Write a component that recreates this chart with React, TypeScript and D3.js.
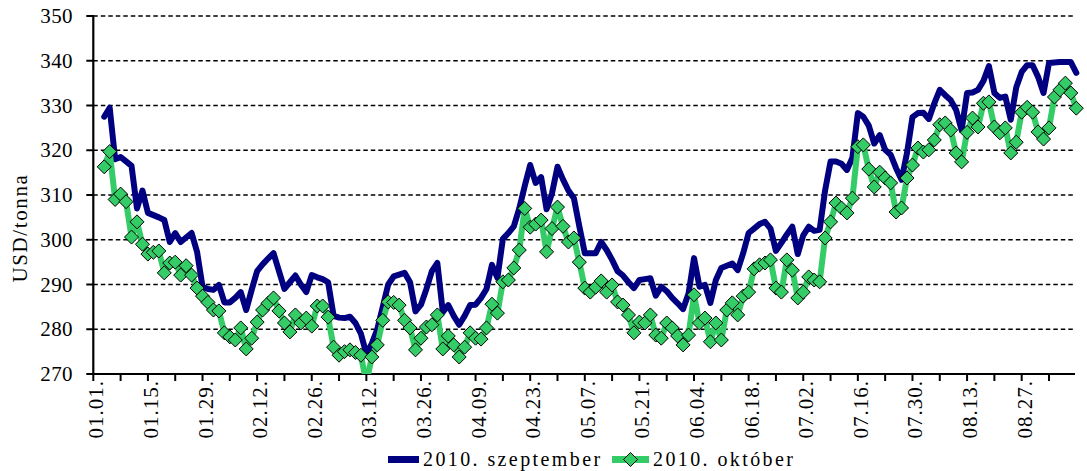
import React from "react";
import * as d3 from "d3";

// Category axis: business days counted from 2010.01.01 (index 0); data start at index 2
const FIRST_INDEX = 2;
const LAST_INDEX = 180;

const tickLabels = [
  "01.01.", "01.15.", "01.29.", "02.12.", "02.26.", "03.12.", "03.26.", "04.09.", "04.23.",
  "05.07.", "05.21.", "06.04.", "06.18.", "07.02.", "07.16.", "07.30.", "08.13.", "08.27.",
];

const yTicks = [270, 280, 290, 300, 310, 320, 330, 340, 350];

const seriesNames = ["2010. szeptember", "2010. október"];

// 2010. szeptember (USD/tonna)
const septValues = [
  327.5, 329.5, 318, 318.5, 317.5, 316.5, 307, 311, 306, 305.5,
  305, 304.4, 299.5, 301.5, 299.5, 300.5, 301.5, 297.3, 289.5, 289,
  288.8, 289.9, 286, 286, 287, 288.3, 284.3, 288.8, 293, 294.5,
  295.8, 297, 293, 289, 290.5, 292, 290, 288.3, 292.1, 291.6,
  291.2, 290.5, 283, 282.6, 282.5, 282.8, 281.4, 279, 274.5, 276.8,
  280, 285, 290, 291.8, 292.2, 292.6, 290.5, 284, 285.5, 289,
  293, 294.8, 283.8, 285.4, 283, 281, 283, 285.4, 285.5, 287,
  289, 294.4, 291.5, 300.2, 301.5, 303, 307, 312, 316.7, 312.7,
  314, 306.8, 310.4, 316.3, 313.5, 311, 309.3, 303, 297, 297,
  297, 299.5, 297.7, 295.5, 293, 292, 290.5, 289.2, 291, 291.2,
  291.4, 287.5, 289.5, 288.5, 287, 285.8, 284.5, 288, 295.9, 289.5,
  289.9, 285.9, 291, 293.7, 294.2, 294.7, 293.2, 297, 301.5, 302.5,
  303.5, 304, 302.5, 297.5, 299.3, 301.2, 302.9, 296.8, 301, 302.9,
  302, 302.2, 311, 317.5, 317.5, 317, 315.6, 318.3, 328.3, 327.5,
  325.5, 321.5, 323.4, 320.1, 319, 316, 313.4, 319.4, 327.4, 328.3,
  328.4, 327, 330.5, 333.5, 332.3, 331.2, 329, 324.5, 332.8, 332.9,
  333.5, 335.5, 338.8, 332.8, 331.7, 332, 326.8, 334, 337.5, 339,
  339, 336.4, 332.8, 339.5, 339.6, 339.7, 339.7, 339.7, 337.3,
];

// 2010. október (USD/tonna)
const octValues = [
  316.3, 319.7, 309, 310.2, 308.5, 300.6, 304, 299, 296.8, 297.2,
  297.5, 292.6, 294.8, 295, 292.1, 294.2, 292.1, 289.2, 287.4, 286,
  284.3, 284.1, 279.2, 278.3, 277.6, 280.3, 275.6, 278, 281.6, 284.3,
  285.8, 287, 284.1, 281.4, 279.4, 283.2, 281.4, 282.5, 280.7, 285.2,
  285.2, 282.7, 276, 274.2, 275, 275.4, 274.8, 274.2, 268, 273.8,
  276.5, 282, 286.1, 286, 285.4, 282, 280.3, 275.4, 278, 280.5,
  281, 283.2, 275.6, 278.5, 276.5, 273.8, 276, 279.2, 278, 277.8,
  280.3, 285.6, 283.6, 290.6, 291, 293.7, 297.7, 307, 302.8, 303.5,
  304.4, 297.3, 302.5, 307.3, 303, 299.5, 300.4, 295, 289.2, 288.3,
  289.4, 290.8, 288.3, 289.9, 286.1, 285.4, 283.2, 279.2, 281.6, 281.4,
  283.2, 278.7, 278, 281.4, 280.3, 278.5, 276.5, 278.7, 287.7, 281.4,
  282.5, 277.2, 281.4, 277.6, 284.3, 285.9, 283.2, 287.4, 288.3, 293.5,
  294.4, 294.8, 295.5, 289.2, 288.3, 295.5, 293.2, 287, 288.3, 291.7,
  291, 290.6, 300.4, 304, 308.2, 307.1, 306, 309.3, 320.8, 321.2,
  315.8, 311.8, 315.1, 313.8, 312.7, 306.2, 307.1, 313.8, 316.7, 320.5,
  319.6, 320.1, 322.3, 325.7, 326.1, 324.5, 319.4, 317.4, 324, 327.2,
  325.2, 330.5, 330.8, 325.2, 323.9, 325, 319.4, 321.8, 328.5, 329.6,
  328.5, 324.1, 322.5, 325, 331.9, 333.5, 335, 332.8, 329.4,
];

const W = 1087;
const H = 471;
const m = { left: 93.3, right: 1076.3, top: 16, bottom: 374 };
const FONT = "'Liberation Serif', 'DejaVu Serif', serif";
const NAVY = "#000080";
const GREEN = "#33CC66";

export default function App() {
  const x = d3.scaleLinear().domain([0, LAST_INDEX]).range([m.left, m.right]);
  const y = d3.scaleLinear().domain([270, 350]).range([m.bottom, m.top]);

  const septPts = septValues.map((v, k) => [FIRST_INDEX + k, v] as [number, number]);
  const octPts = octValues.map((v, k) => [FIRST_INDEX + k, v] as [number, number]);

  const line = d3
    .line<[number, number]>()
    .x((d) => x(d[0]))
    .y((d) => y(d[1]));

  const weekTicks = d3.range(0, 176, 5);
  const labelTicks = tickLabels.map((t, k) => ({ t, i: k * 10 }));
  const axisEnd = 1075;
  const diamond = (r: number) => `M0,${-r}L${r},0L0,${r}L${-r},0Z`;

  return (
    <svg
      width={W}
      height={H}
      style={{ position: "absolute", left: 0, top: 0, background: "#fff", display: "block" }}
      fontFamily={FONT}
    >
      <defs>
        <clipPath id="plotClip">
          <rect x={m.left} y={m.top - 10} width={W - m.left} height={m.bottom - m.top + 10} />
        </clipPath>
      </defs>

      {/* grid lines */}
      {yTicks.slice(1).map((t) => (
        <line
          key={"g" + t}
          x1={m.left}
          x2={axisEnd}
          y1={y(t)}
          y2={y(t)}
          stroke="#000"
          strokeWidth={1.4}
          strokeDasharray="4.5,3"
        />
      ))}

      {/* y axis */}
      <line x1={m.left} x2={m.left} y1={m.top - 1} y2={m.bottom + 1} stroke="#000" strokeWidth={2.2} />
      {yTicks.map((t) => (
        <g key={"yt" + t}>
          <line x1={m.left - 7} x2={m.left} y1={y(t)} y2={y(t)} stroke="#000" strokeWidth={2} />
          <text x={73} y={y(t)} textAnchor="end" dominantBaseline="central" fontSize={21} letterSpacing={0.4} fill="#000">
            {t}
          </text>
        </g>
      ))}
      <text
        transform={`translate(20,${228}) rotate(-90)`}
        textAnchor="middle"
        dominantBaseline="central"
        fontSize={21}
        letterSpacing={1.6}
        fill="#000"
      >
        USD/tonna
      </text>

      {/* x axis */}
      <line x1={m.left} x2={axisEnd} y1={m.bottom} y2={m.bottom} stroke="#000" strokeWidth={2.2} />
      {weekTicks.map((i) => (
        <line key={"xt" + i} x1={x(i)} x2={x(i)} y1={m.bottom} y2={m.bottom + 7} stroke="#000" strokeWidth={2} />
      ))}
      {labelTicks.map(({ t, i }) => (
        <text
          key={"xl" + i}
          transform={`translate(${x(i) + 3},${380}) rotate(-90)`}
          textAnchor="end"
          dominantBaseline="central"
          fontSize={21}
          letterSpacing={1}
          fill="#000"
        >
          {t}
        </text>
      ))}

      {/* series */}
      <g clipPath="url(#plotClip)">
        <path d={line(septPts) || ""} fill="none" stroke={NAVY} strokeWidth={6} strokeLinejoin="round" strokeLinecap="round" />
        <path d={line(octPts) || ""} fill="none" stroke={GREEN} strokeWidth={6} strokeLinejoin="round" />
        {octPts
          .filter((d) => d[1] > 268.8)
          .map((d, k) => (
            <path
              key={"mk" + k}
              d={diamond(7)}
              transform={`translate(${x(d[0])},${y(d[1])})`}
              fill={GREEN}
              stroke="#000"
              strokeWidth={1}
            />
          ))}
      </g>

      {/* legend */}
      <g>
        <rect x={388} y={456} width={31} height={7} fill={NAVY} />
        <text x={423} y={458.5} dominantBaseline="central" fontSize={20} letterSpacing={2.4} fill="#000">
          {seriesNames[0]}
        </text>
        <rect x={612} y={456} width={37} height={7} fill={GREEN} />
        <path d={diamond(7)} transform="translate(630.5,459.5)" fill={GREEN} stroke="#000" strokeWidth={1} />
        <text x={653} y={458.5} dominantBaseline="central" fontSize={20} letterSpacing={2.4} fill="#000">
          {seriesNames[1]}
        </text>
      </g>
    </svg>
  );
}
